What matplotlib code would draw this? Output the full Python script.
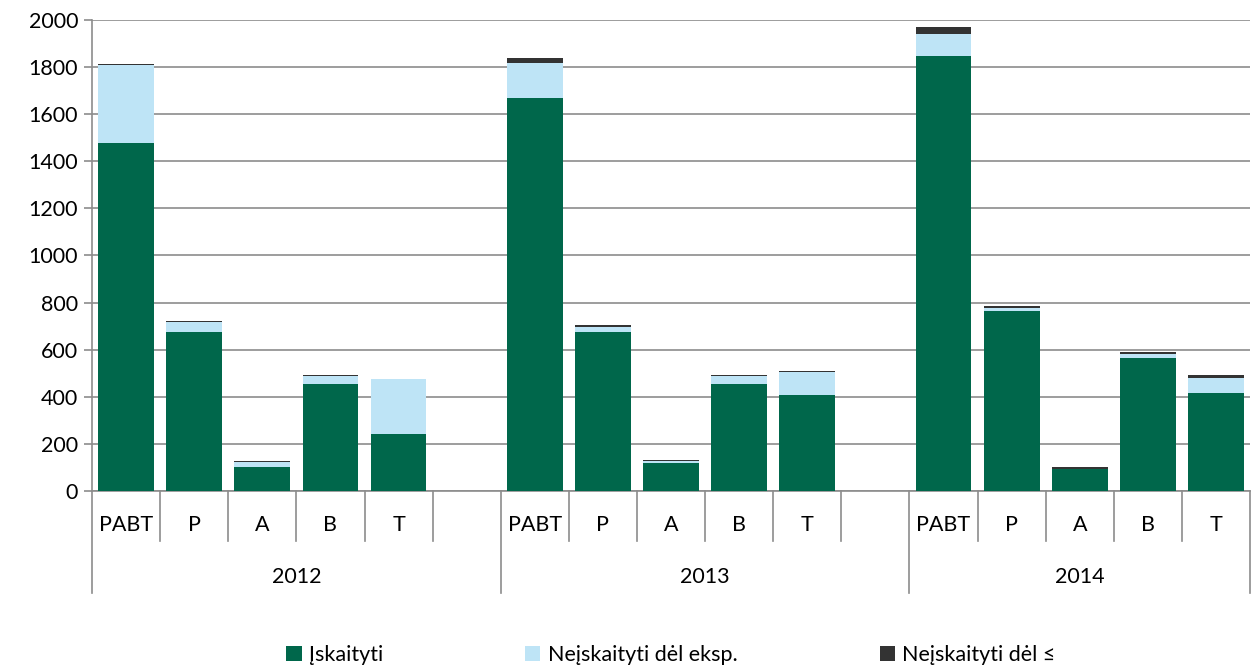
import matplotlib
matplotlib.use('Agg')
import matplotlib.pyplot as plt
from matplotlib.patches import Patch
import matplotlib.transforms as mtransforms
import numpy as np

plt.rcParams['font.family'] = ['Lato', 'DejaVu Sans']

years = ['2012', '2013', '2014']
cats = ['PABT', 'P', 'A', 'B', 'T']

# values per year, in order PABT, P, A, B, T
iskaityti = [1478, 676, 101, 454, 242,
             1669, 676, 120, 456, 409,
             1847, 766, 93, 566, 416]
neisk_eksp = [330, 40, 23, 36, 232,
              147, 22, 7, 32, 95,
              93, 9, 2, 17, 65]
neisk_le = [5, 4, 5, 2, 1,
            21, 8, 5, 4, 4,
            30, 10, 5, 8, 11]

labels = ['Įskaityti', 'Neįskaityti dėl eksp.', 'Neįskaityti dėl ≤']
colors = ['#00674B', '#BEE4F6', '#333333']

fs = 15.5
slots_per_year = 6
n_slots = slots_per_year * (len(years) - 1) + len(cats)

x = []
for yi in range(len(years)):
    for ci in range(len(cats)):
        x.append(yi * slots_per_year + ci + 0.5)
x = np.array(x)

a = np.array(iskaityti)
b = np.array(neisk_eksp)
c = np.array(neisk_le)

fig = plt.figure(figsize=(12.59, 6.66), dpi=100)
ax = fig.add_axes([0.0731, 0.2628, 0.9198, 0.7072])

w = 0.82
ax.bar(x, a, w, color=colors[0], zorder=3)
ax.bar(x, b, w, bottom=a, color=colors[1], zorder=3)
ax.bar(x, c, w, bottom=a + b, color=colors[2], zorder=3)

ax.set_xlim(0, n_slots)
ax.set_ylim(0, 2000)
ax.set_yticks(range(0, 2001, 200))
ax.yaxis.grid(True, color='#8C8C8C', linewidth=1.2, zorder=0)
ax.set_axisbelow(True)

for s in ['top', 'right']:
    ax.spines[s].set_visible(False)
for s in ['left', 'bottom']:
    ax.spines[s].set_color('#8C8C8C')
    ax.spines[s].set_linewidth(1.2)

ax.tick_params(axis='y', length=6, width=1.2, color='#8C8C8C', labelsize=fs, pad=4)
ax.set_xticks([])

# multi-level category axis
trans = mtransforms.blended_transform_factory(ax.transData, ax.transAxes)
minor_y = -0.106
major_y = -0.2166
for s in range(n_slots + 1):
    is_major = (s % slots_per_year == 0) or s == n_slots
    ax.plot([s, s], [0, major_y if is_major else minor_y], transform=trans,
            color='#8C8C8C', lw=1.2, clip_on=False)

for xi, lab in zip(x, cats * len(years)):
    ax.text(xi, -0.072, lab, transform=trans, ha='center', va='center', fontsize=fs)

for yi, yr in enumerate(years):
    start = yi * slots_per_year
    end = min(start + slots_per_year, n_slots)
    ax.text((start + end) / 2, -0.183, yr, transform=trans,
            ha='center', va='center', fontsize=fs)

handles = [Patch(facecolor=col, label=lab) for col, lab in zip(colors, labels)]
fig.legend(handles=handles, loc='center', bbox_to_anchor=(0.533, 0.0165), ncol=3,
           frameon=False, fontsize=fs, handlelength=0.7, handleheight=0.7,
           handletextpad=0.35, columnspacing=6.6)

fig.savefig('out.png', dpi=100)
